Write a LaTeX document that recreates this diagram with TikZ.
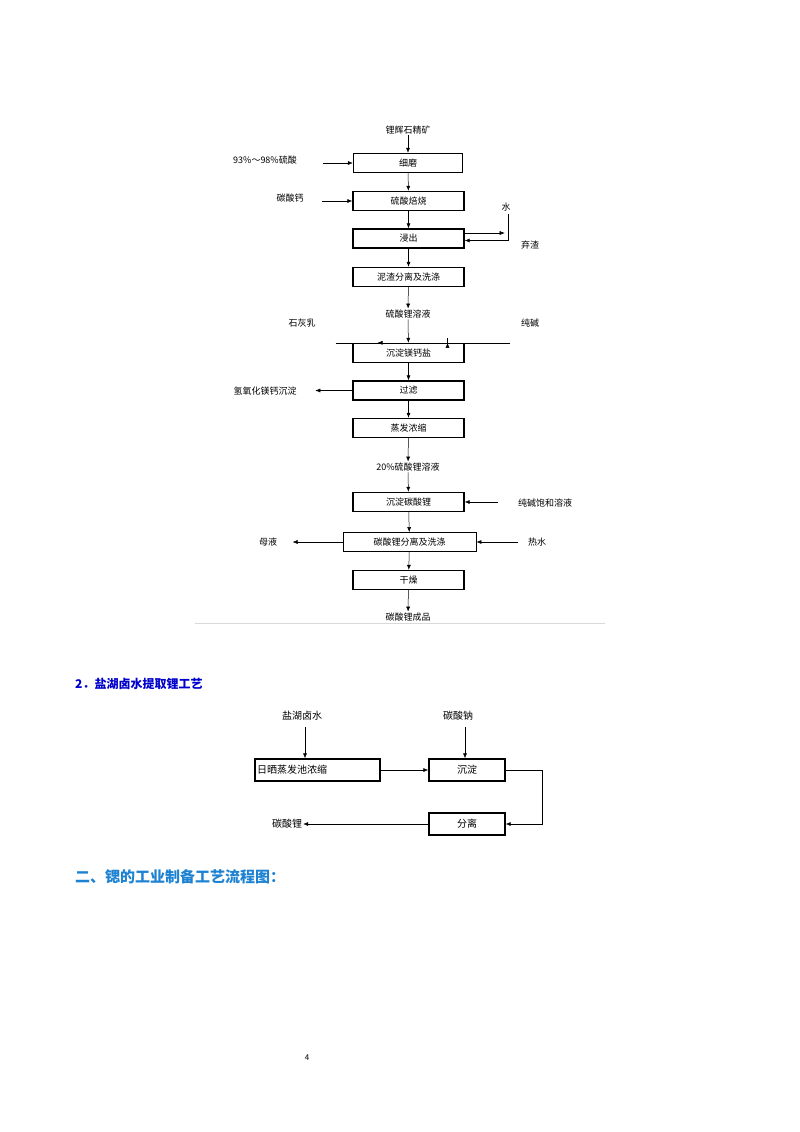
\documentclass[tikz,border=0pt]{standalone}
\usepackage{fontspec}
\setmainfont{Noto Sans CJK SC}
\usetikzlibrary{arrows.meta}
\begin{document}
\begin{tikzpicture}[x=1pt,y=-1pt,
  box/.style={draw,line width=1.4pt,minimum height=19pt,inner sep=0pt,font=\fontsize{9}{9}\selectfont},
  lbl/.style={font=\fontsize{9}{9}\selectfont,inner sep=1pt},
  arr/.style={-{Latex[length=5pt,width=4pt]},line width=0.5pt},
  ln/.style={line width=0.5pt}]
\useasboundingbox (0,0) rectangle (800,1132);
% boxes first diagram
\node[box,minimum width=109pt] (b1) at (408,163) {细磨};
\node[box,minimum width=111pt] (b2) at (408.5,201) {硫酸焙烧};
\node[box,minimum width=111pt] (b3) at (408.5,238.5) {浸出};
\node[box,minimum width=111pt] (b4) at (408.5,277) {泥渣分离及洗涤};
\node[lbl] (t5) at (408,314) {硫酸锂溶液};
\node[box,minimum width=111pt] (b6) at (408.5,353) {沉淀镁钙盐};
\node[box,minimum width=111pt] (b7) at (408.5,390.5) {过滤};
\node[box,minimum width=111pt] (b8) at (408.5,428) {蒸发浓缩};
\node[lbl] (t9) at (408,467) {20\%硫酸锂溶液};
\node[box,minimum width=111pt] (b10) at (408.5,502) {沉淀碳酸锂};
\node[box,minimum width=133pt,line width=0.9pt] (b11) at (409.5,542) {碳酸锂分离及洗涤};
\node[box,minimum width=111pt] (b12) at (408.5,580) {干燥};
\node[lbl] (t13) at (408,617) {碳酸锂成品};
\node[lbl] (top) at (408,130) {锂辉石精矿};
\node[lbl] (acid) at (265,160) {93\%～98\%硫酸};
\node[lbl] (caco) at (290,198) {碳酸钙};
\node[lbl] (water) at (506,207) {水};
\node[lbl] (slag) at (530,245) {弃渣};
\node[lbl] (lime) at (302,323) {石灰乳};
\node[lbl] (soda) at (530,323) {纯碱};
\node[lbl] (mgca) at (265,391) {氢氧化镁钙沉淀};
\node[lbl] (sat) at (545,503) {纯碱饱和溶液};
\node[lbl] (mu) at (268,542) {母液};
\node[lbl] (hot) at (537,542) {热水};
% connectors
\draw[arr] (top) -- (b1);
\draw[arr] (b1) -- (b2);
\draw[arr] (b2) -- (b3);
\draw[arr] (b3) -- (b4);
\draw[arr] (b4) -- (t5);
\draw[arr] (t5) -- (b6);
\draw[arr] (b6) -- (b7);
\draw[arr] (b7) -- (b8);
\draw[arr] (b8) -- (t9);
\draw[arr] (t9) -- (b10);
\draw[arr] (b10) -- (b11);
\draw[arr] (b11) -- (b12);
\draw[arr] (b12) -- (t13);
\draw[arr] ([xshift=-30pt]b1.west) -- (b1.west);
\draw[arr] ([xshift=-30pt]b2.west) -- (b2.west);
\coordinate (w0) at (508,214);
\draw[arr] (w0) |- ([yshift=-2pt]b3.east);
\draw[arr] ([yshift=5.5pt]b3.east) -- ([xshift=40pt,yshift=5.5pt]b3.east);
\draw[arr] ([xshift=-73pt]b6.north) -- ++(44,0) -- ([xshift=-31pt]b6.north);
\draw[arr] ([xshift=101pt]b6.north) -- ++(-62,0) -- ([xshift=39pt]b6.north);
\draw[arr] (b7.west) -- ([xshift=-37pt]b7.west);
\draw[arr] ([xshift=33pt]b10.east) -- (b10.east);
\draw[arr] (b11.west) -- ([xshift=-50pt]b11.west);
\draw[arr] ([xshift=42pt]b11.east) -- (b11.east);
\draw[gray!30,line width=1pt] (195,623) -- (605,623);
% headings
\node[anchor=west,inner sep=0pt,text=blue!80!black,font=\bfseries\fontsize{12}{12}\selectfont] (h1) at (75,684) {2．盐湖卤水提取锂工艺};
\node[anchor=west,inner sep=0pt,text={rgb,255:red,30;green,130;blue,210},font=\bfseries\fontsize{15}{15}\selectfont] (h2) at (75,877) {二、锶的工业制备工艺流程图：};
\node[inner sep=0pt,font=\fontsize{8}{8}\selectfont] (pg) at (307,1058) {4};
% second diagram
\node[box,minimum width=125pt,minimum height=22pt,text width=121pt,align=left,font=\fontsize{10}{10}\selectfont] (e1) at (317.5,770) {日晒蒸发池浓缩};
\node[box,minimum width=76pt,minimum height=22pt,font=\fontsize{10}{10}\selectfont] (e2) at (467,770) {沉淀};
\node[box,minimum width=76pt,minimum height=22pt,font=\fontsize{10}{10}\selectfont] (e3) at (467,824) {分离};
\node[lbl,font=\fontsize{10}{10}\selectfont] (brine) at (302,716) {盐湖卤水};
\node[lbl,font=\fontsize{10}{10}\selectfont] (na) at (458,716) {碳酸钠};
\node[lbl,font=\fontsize{10}{10}\selectfont] (li) at (287,824) {碳酸锂};
\draw[arr] (305,727) coordinate (q1) -- (q1 |- e1.north);
\draw[arr] (465,727) coordinate (q2) -- (q2 |- e2.north);
\draw[arr] (e1) -- (e2);
\draw[arr] (e2.east) -- (542,770) coordinate (q3) |- (e3.east);
\draw[arr] (e3) -- (li);
\end{tikzpicture}
\end{document}
